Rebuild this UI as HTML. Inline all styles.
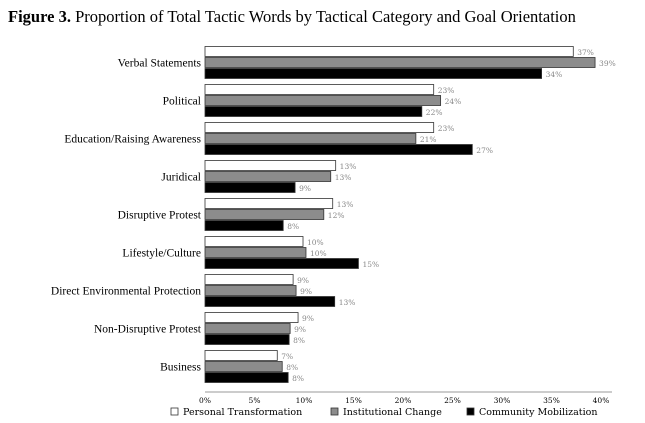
<!DOCTYPE html>
<html><head><meta charset="utf-8"><style>
body{margin:0;background:#fff;width:645px;height:423px;overflow:hidden}
svg{display:block}
</style></head><body>
<svg width="645" height="423">
<text x="8" y="22" font-family="Liberation Serif" font-size="16.5" fill="#000"><tspan font-weight="bold">Figure 3.</tspan> Proportion of Total Tactic Words by Tactical Category and Goal Orientation</text>
<g id="plot"></g>
</svg>
<script>
const categories=["Verbal Statements","Political","Education/Raising Awareness","Juridical","Disruptive Protest","Lifestyle/Culture","Direct Environmental Protection","Non-Disruptive Protest","Business"];
const personal=[37.2,23.1,23.1,13.2,12.9,9.9,8.9,9.4,7.3];
const institutional=[39.4,23.8,21.3,12.7,12.0,10.2,9.2,8.6,7.8];
const community=[34.0,21.9,27.0,9.1,7.9,15.5,13.1,8.5,8.4];
const personalLabels=["37%","23%","23%","13%","13%","10%","9%","9%","7%"];
const institutionalLabels=["39%","24%","21%","13%","12%","10%","9%","9%","8%"];
const communityLabels=["34%","22%","27%","9%","8%","15%","13%","8%","8%"];
const ticks=[0,5,10,15,20,25,30,35,40];
const series=[{v:personal,l:personalLabels,fill:"#fff",name:"personal"},{v:institutional,l:institutionalLabels,fill:"#8c8c8c",name:"institutional"},{v:community,l:communityLabels,fill:"#000",name:"community"}];
const x0=205,x1=601,maxV=40;
const xs=v=>x0+(x1-x0)*v/maxV;
const gTop=46,gStep=38,bh=11;
const NS="http://www.w3.org/2000/svg";
const g=document.getElementById('plot');
function mk(t,a,txt){const e=document.createElementNS(NS,t);for(const k in a)e.setAttribute(k,a[k]);if(txt!==undefined)e.textContent=txt;g.appendChild(e);return e;}
categories.forEach((c,i)=>{
  const y=gTop+i*gStep;
  const t=mk('text',{x:201,y:y+bh*1.5+4,'text-anchor':'end','font-family':'Liberation Serif','font-size':'11.5',fill:'#000'},c);
  
  
  series.forEach((s,j)=>{
    const by=y+j*bh;
    const r=mk('rect',{x:x0,y:by+0.5,width:xs(s.v[i])-x0,height:bh-1,fill:s.fill,stroke:'#333','stroke-width':0.8});
    
    
    const l=mk('text',{x:xs(s.v[i])+4,y:by+bh-2,'font-family':'DejaVu Serif','font-size':'7.5',fill:'#888'},s.l[i]);
    
    
  });
});
const ax=mk('line',{x1:x0,x2:612,y1:392,y2:392,stroke:'#777','stroke-width':0.8});


ticks.forEach(t=>{
  const e=mk('text',{x:xs(t),y:403,'text-anchor':'middle','font-family':'DejaVu Serif','font-size':'7.5',fill:'#000'},t+'%');
  
  
});
const leg=[["Personal Transformation","#fff",171],["Institutional Change","#8c8c8c",331],["Community Mobilization","#000",467]];
leg.forEach(L=>{
  const r=mk('rect',{x:L[2],y:408,width:7,height:7,fill:L[1],stroke:'#333','stroke-width':0.8});
  
  
  const t=mk('text',{x:L[2]+12,y:415,'font-family':'DejaVu Serif','font-size':'9.5',fill:'#000'},L[0]);
  
  
});
</script>
</body></html>
